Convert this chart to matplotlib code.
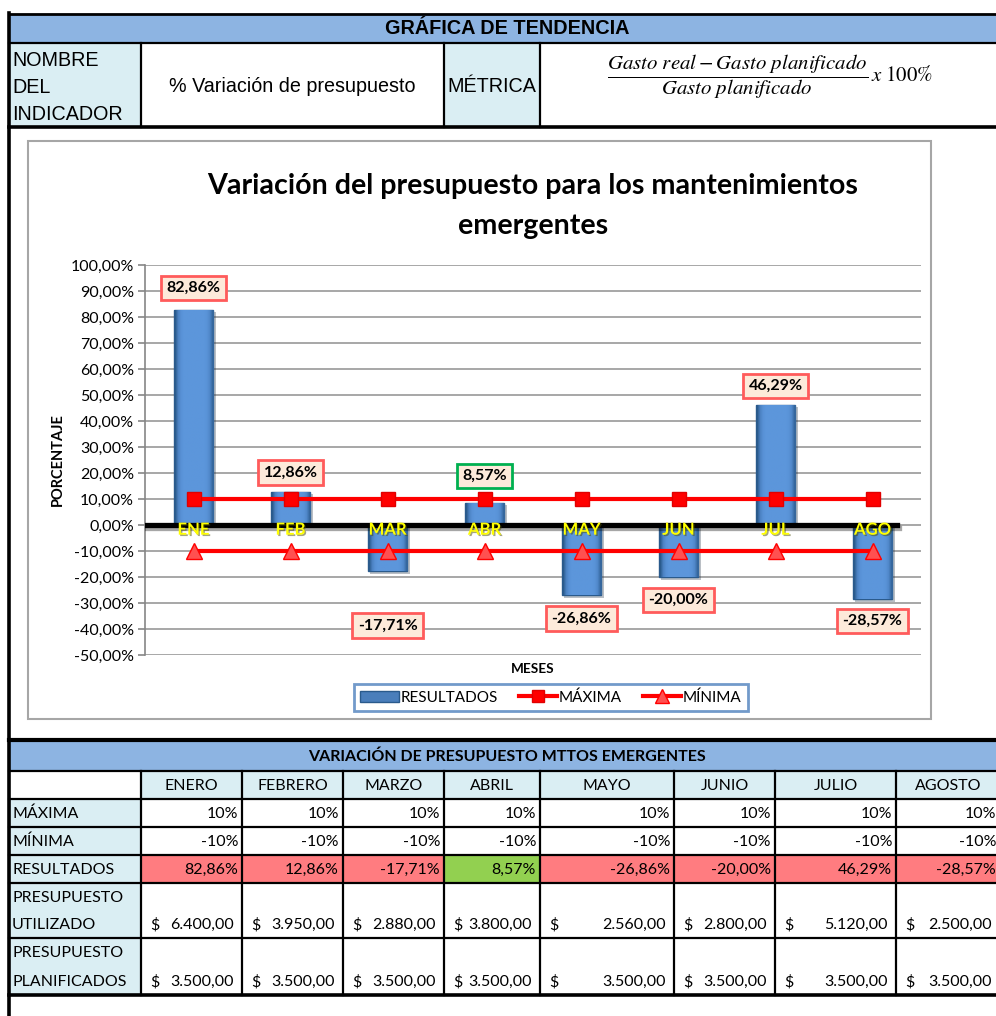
import numpy as np
import matplotlib
matplotlib.use("Agg")
import matplotlib.pyplot as plt
from matplotlib.patches import Rectangle, Patch
from matplotlib.lines import Line2D
from matplotlib.colors import LinearSegmentedColormap
import matplotlib.patheffects as pe
from matplotlib.ticker import FuncFormatter

# ---------------- data ----------------
months_short = ['ENE', 'FEB', 'MAR', 'ABR', 'MAY', 'JUN', 'JUL', 'AGO']
months_full = ['ENERO', 'FEBRERO', 'MARZO', 'ABRIL', 'MAYO', 'JUNIO', 'JULIO', 'AGOSTO']
resultados = [82.86, 12.86, -17.71, 8.57, -26.86, -20.00, 46.29, -28.57]
maxima = [10, 10, 10, 10, 10, 10, 10, 10]
minima = [-10, -10, -10, -10, -10, -10, -10, -10]
presupuesto_utilizado = [6400.00, 3950.00, 2880.00, 3800.00, 2560.00, 2800.00, 5120.00, 2500.00]
presupuesto_planificado = [3500.00, 3500.00, 3500.00, 3500.00, 3500.00, 3500.00, 3500.00, 3500.00]
yticks = [-50, -40, -30, -20, -10, 0, 10, 20, 30, 40, 50, 60, 70, 80, 90, 100]

# manual label placement (as in the spreadsheet chart)
label_y = [91.2, 20.2, -38.6, 18.9, -35.9, -28.9, 53.5, -37.0]

# ---------------- styling ----------------
W, H = 996, 1016
HDR_BLUE = '#8DB4E2'
LIGHT_BLUE = '#DAEEF3'
RED_CELL = '#FF7C80'
GREEN_CELL = '#92D050'
ARIAL = ['Liberation Sans', 'DejaVu Sans']
CAL = ['Lato', 'DejaVu Sans']
plt.rcParams['mathtext.fontset'] = 'stix'
TF = 11.5  # bottom table font size

def pct(v, nd=2):
    return f"{v:.{nd}f}".replace('.', ',') + '%'

def money(v):
    s = f"{v:,.2f}"
    return s.replace(',', 'X').replace('.', ',').replace('X', '.')

fig = plt.figure(figsize=(W / 100, H / 100), dpi=100)
bg = fig.add_axes([0, 0, 1, 1])
bg.set_xlim(0, W)
bg.set_ylim(H, 0)
bg.axis('off')

# ---------------- top table ----------------
bg.add_patch(Rectangle((9, 14), W, 29, fc=HDR_BLUE, ec='none'))
bg.add_patch(Rectangle((9, 43), 132, 83, fc=LIGHT_BLUE, ec='none'))
bg.add_patch(Rectangle((444, 43), 96, 83, fc=LIGHT_BLUE, ec='none'))
bg.plot([9, W], [14, 14], color='black', lw=2)
bg.plot([9, W], [43, 43], color='black', lw=1.6)
bg.plot([9, W], [127, 127], color='black', lw=2.6)
for xv in [141, 444, 540]:
    bg.plot([xv, xv], [43, 127], color='black', lw=1.6)
bg.text(507, 29, 'GRÁFICA DE TENDENCIA', ha='center', va='center',
        fontsize=14.3, fontweight='bold', family=ARIAL)
for i, t in enumerate(['NOMBRE', 'DEL', 'INDICADOR']):
    bg.text(12, 61 + i * 26.5, t, ha='left', va='center', fontsize=14.2, family=ARIAL)
bg.text(292, 87, '% Variación de presupuesto', ha='center', va='center',
        fontsize=14.2, family=ARIAL)
bg.text(492, 87, 'MÉTRICA', ha='center', va='center', fontsize=14.2, family=ARIAL)
bg.text(770, 77, r'$\dfrac{Gasto\ real - Gasto\ planificado}{Gasto\ planificado}\,x\ 100\%$',
        ha='center', va='center', fontsize=15)

# ---------------- chart frame ----------------
bg.add_patch(Rectangle((28, 141), 903, 578, fc='white', ec='#A6A6A6', lw=1.5))
bg.text(533, 186, 'Variación del presupuesto para los mantenimientos',
        ha='center', va='center', fontsize=20.6, fontweight='bold', family=CAL)
bg.text(533, 226, 'emergentes', ha='center', va='center', fontsize=20.6,
        fontweight='bold', family=CAL)
bg.text(58, 460, 'PORCENTAJE', ha='center', va='center', rotation=90,
        fontsize=10.5, fontweight='bold', family=CAL)
bg.text(533, 669, 'MESES', ha='center', va='center', fontsize=9.8,
        fontweight='bold', family=CAL)

# ---------------- chart ----------------
ax = fig.add_axes([145 / W, 1 - 655 / H, (921 - 145) / W, (655 - 265) / H])
ax.set_facecolor('none')
x = np.arange(len(months_short))
ax.set_yticks(yticks)
ax.yaxis.set_major_formatter(FuncFormatter(lambda v, p: pct(v)))
ax.set_xticks([])
for s in ['top', 'right', 'bottom']:
    ax.spines[s].set_visible(False)
ax.spines['left'].set_color('#868686')
ax.spines['left'].set_linewidth(1.2)
ax.tick_params(axis='y', length=5, color='#868686', width=1.2, labelsize=11.5, pad=3)
for lab in ax.get_yticklabels():
    lab.set_family(CAL)
ax.yaxis.grid(True, color='#A0A0A0', lw=1.3)
ax.set_axisbelow(True)

bars = ax.bar(x, resultados, width=0.41, color='#5A93D8', edgecolor='#2A5A8C',
              lw=1.0, zorder=2)
cmap = LinearSegmentedColormap.from_list('bev', ['#2A5A8C', '#4F86C8', '#5C96DB'])
grad = np.array([[0.0, 0.45, 0.85, 1, 1, 1, 1, 1, 1, 1, 1, 0.9, 0.55, 0.15]])
for r in bars:
    r.set_path_effects([pe.SimplePatchShadow(offset=(2, -2), alpha=0.3), pe.Normal()])
    x0, w = r.get_x(), r.get_width()
    y0, h = r.get_y(), r.get_height()
    im = ax.imshow(grad, extent=[x0, x0 + w, min(y0, y0 + h), max(y0, y0 + h)],
                   aspect='auto', cmap=cmap, vmin=0, vmax=1, zorder=2.5,
                   interpolation='bilinear')
    im.set_clip_path(r)
ax.set_xlim(-0.5, len(months_short) - 0.5)
ax.set_ylim(-50, 100)

ax.axhline(0, xmin=0, xmax=(7.25 + 0.5) / 8, color='black', lw=3.8, zorder=4,
           path_effects=[pe.SimpleLineShadow(offset=(1.5, -2), alpha=0.35), pe.Normal()])

for xi, m in zip(x, months_short):
    ax.text(xi, -1.8, m, ha='center', va='center', color='#FFFF00', fontsize=12,
            fontweight='bold', family=CAL, zorder=5,
            path_effects=[pe.withSimplePatchShadow(offset=(1, -1), alpha=0.5)])

ax.plot(x, maxima, color='red', lw=3, marker='s', ms=10, mfc='#FF0000',
        mec='#E00000', zorder=6)
ax.plot(x, minima, color='red', lw=3, marker='^', ms=11, mfc='#FF5050',
        mec='#FF0000', zorder=6)

for xi, v, ly in zip(x, resultados, label_y):
    ec = '#00B050' if minima[0] <= v <= maxima[0] else '#FF5B5B'
    ax.text(xi, ly, pct(v), ha='center', va='center', fontsize=11.5, fontweight='bold',
            family=CAL, zorder=7,
            bbox=dict(boxstyle='square,pad=0.33', fc='#FDEADA', ec=ec, lw=2))

handles = [Patch(facecolor='#4A7EBB', edgecolor='#2A5A8C'),
           Line2D([], [], color='red', lw=3, marker='s', ms=9, mfc='#FF0000', mec='#E00000'),
           Line2D([], [], color='red', lw=3, marker='^', ms=10, mfc='#FF5050', mec='#FF0000')]
leg = fig.legend(handles, ['RESULTADOS', 'MÁXIMA', 'MÍNIMA'], loc='center',
                 bbox_to_anchor=(551 / W, 1 - 697.5 / H), ncol=3, frameon=True,
                 fancybox=False, edgecolor='#4F81BD', handlelength=2.5,
                 handletextpad=0.1, columnspacing=1.4, borderpad=0.4,
                 prop={'family': CAL, 'size': 11})
leg.get_frame().set_linewidth(2)

# ---------------- bottom table ----------------
cols = [10, 141, 242, 343, 444, 540, 674, 775, 896, 1000]
rows = [771, 799, 827, 855, 883, 938, 995]
bg.add_patch(Rectangle((9, 742), W, 29, fc=HDR_BLUE, ec='none'))
bg.text(507, 757, 'VARIACIÓN DE PRESUPUESTO MTTOS EMERGENTES', ha='center',
        va='center', fontsize=TF, fontweight='bold', family=CAL)
for j in range(8):
    bg.add_patch(Rectangle((cols[j + 1], rows[0]), cols[j + 2] - cols[j + 1],
                           rows[1] - rows[0], fc=LIGHT_BLUE, ec='none'))
    bg.text((cols[j + 1] + cols[j + 2]) / 2, 786, months_full[j], ha='center',
            va='center', fontsize=TF, family=CAL)
bg.add_patch(Rectangle((cols[0], rows[1]), cols[1] - cols[0], rows[-1] - rows[1],
                       fc=LIGHT_BLUE, ec='none'))
for j, v in enumerate(resultados):
    fc = GREEN_CELL if minima[j] <= v <= maxima[j] else RED_CELL
    bg.add_patch(Rectangle((cols[j + 1], rows[3]), cols[j + 2] - cols[j + 1],
                           rows[4] - rows[3], fc=fc, ec='none'))

row_labels = ['MÁXIMA', 'MÍNIMA', 'RESULTADOS']
row_vals = [maxima, minima, resultados]
for i, (lab, vals) in enumerate(zip(row_labels, row_vals)):
    yc = (rows[i + 1] + rows[i + 2]) / 2 + 1
    bg.text(12, yc, lab, ha='left', va='center', fontsize=TF, family=CAL)
    for j, v in enumerate(vals):
        txt = pct(v, 0) if i < 2 else pct(v)
        bg.text(cols[j + 2] - 4, yc, txt, ha='right', va='center', fontsize=TF, family=CAL)

money_rows = [('PRESUPUESTO', 'UTILIZADO', presupuesto_utilizado),
              ('PRESUPUESTO', 'PLANIFICADOS', presupuesto_planificado)]
for k, (l1, l2, vals) in enumerate(money_rows):
    top, bot = rows[4 + k], rows[5 + k]
    y1 = top + 15
    y2 = bot - 13
    bg.text(12, y1, l1, ha='left', va='center', fontsize=TF, family=CAL)
    bg.text(12, y2, l2, ha='left', va='center', fontsize=TF, family=CAL)
    for j, v in enumerate(vals):
        bg.text(cols[j + 1] + 9, y2, '$', ha='left', va='center', fontsize=TF, family=CAL)
        bg.text(cols[j + 2] - 8, y2, money(v), ha='right', va='center', fontsize=TF,
                family=CAL)

bg.plot([9, W], [740, 740], color='black', lw=3)
for yv in rows[:-1]:
    bg.plot([9, W], [yv, yv], color='black', lw=1.6)
bg.plot([9, W], [rows[-1], rows[-1]], color='black', lw=2.6)
for xv in cols[1:-1]:
    bg.plot([xv, xv], [rows[0], rows[-1]], color='black', lw=1.6)
bg.plot([9, 9], [13, H], color='black', lw=2.6)

fig.savefig('out.png', dpi=100)
